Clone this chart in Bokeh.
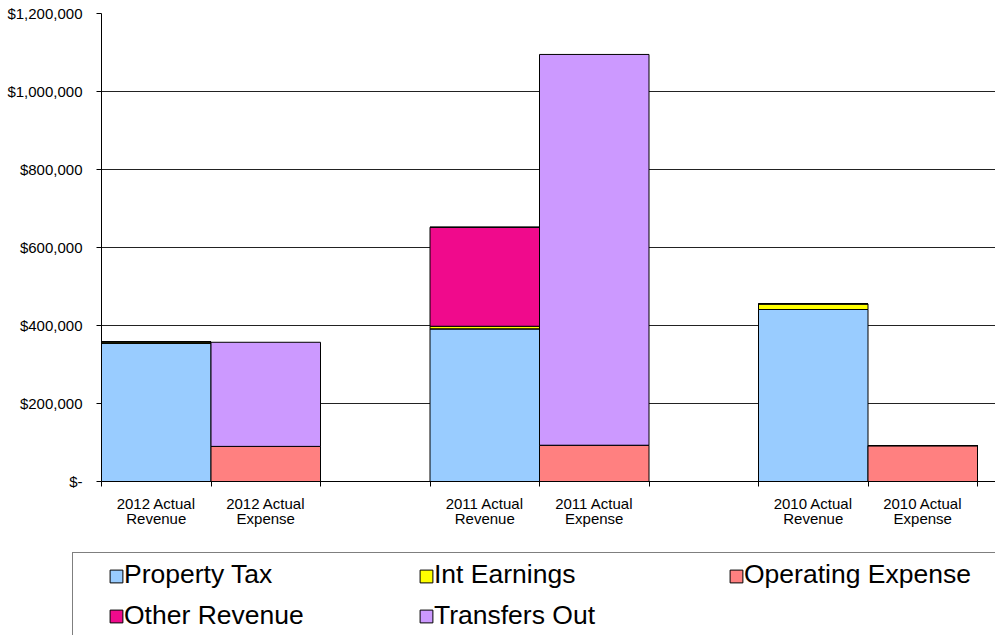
from bokeh.plotting import figure
from bokeh.layouts import column
from bokeh.models import (Range1d, FixedTicker, Legend, LegendItem, ColumnDataSource)
from bokeh.core.properties import value
from bokeh.embed import file_html
from bokeh.resources import INLINE

# ---- data ----
categories = ["2012 Actual\nRevenue", "2012 Actual\nExpense",
              "2011 Actual\nRevenue", "2011 Actual\nExpense",
              "2010 Actual\nRevenue", "2010 Actual\nExpense"]
property_tax = [354000, 0, 391500, 0, 441000, 0]
int_earnings = [4000, 0, 6500, 0, 14500, 0]
other_revenue = [0, 0, 254000, 0, 0, 0]
operating_expense = [0, 90000, 0, 93000, 0, 92000]
transfers_out = [0, 267000, 0, 1002000, 0, 0]
series_names = ["Property Tax", "Int Earnings", "Operating Expense",
                "Other Revenue", "Transfers Out"]
y_ticks = [0, 200000, 400000, 600000, 800000, 1000000, 1200000]
y_tick_labels = ["$-", "$200,000", "$400,000", "$600,000", "$800,000",
                 "$1,000,000", "$1,200,000"]

FONT = "Liberation Sans"
colors = {"Property Tax": "#99CCFF", "Int Earnings": "#FFFF00",
          "Operating Expense": "#FF8080", "Other Revenue": "#F00A8C",
          "Transfers Out": "#CC99FF"}

# category slots: pairs of bars separated by one empty slot
xpos = [i + i // 2 for i in range(len(categories))]
n_slots = xpos[-1] + 1

source = ColumnDataSource(dict(
    x=xpos,
    pt=property_tax, ie=int_earnings, oe=operating_expense,
    orv=other_revenue, to=transfers_out,
))
stack_keys = ["pt", "oe", "ie", "orv", "to"]
stack_names = ["Property Tax", "Operating Expense", "Int Earnings",
               "Other Revenue", "Transfers Out"]

p = figure(width=995, height=550, output_backend="svg", toolbar_location=None,
           x_range=Range1d(-0.5, -0.5 + 894 / 109.5),
           y_range=Range1d(0, 1200000),
           min_border_left=101, min_border_right=0, min_border_top=13,
           min_border_bottom=69)
p.frame_align = False
p.outline_line_color = None
p.background_fill_color = "white"

p.vbar_stack(stack_keys, x="x", width=1, source=source,
             fill_color=[colors[n] for n in stack_names],
             line_color="black", line_width=1)

# axes
p.xgrid.visible = False
p.ygrid.ticker = FixedTicker(ticks=y_ticks)
p.ygrid.grid_line_color = "#222222"
p.ygrid.grid_line_width = 1

p.yaxis.ticker = FixedTicker(ticks=y_ticks)
p.yaxis.major_label_overrides = dict(zip(y_ticks, y_tick_labels))
p.yaxis.major_tick_out = 5
p.yaxis.major_tick_in = 0
p.yaxis.minor_tick_out = 0
p.yaxis.minor_tick_in = 0
p.yaxis.axis_line_color = "black"
p.yaxis.major_tick_line_color = "black"
p.yaxis.major_label_text_font = FONT
p.yaxis.major_label_text_font_size = "15px"
p.yaxis.major_label_text_color = "black"
p.yaxis.major_label_standoff = 14

p.xaxis.ticker = FixedTicker(ticks=xpos,
                             minor_ticks=[k - 0.5 for k in range(n_slots + 1)])
p.xaxis.major_label_overrides = dict(zip(xpos, categories))
p.xaxis.major_tick_out = 0
p.xaxis.major_tick_in = 0
p.xaxis.minor_tick_out = 5
p.xaxis.minor_tick_in = 0
p.xaxis.minor_tick_line_color = "black"
p.xaxis.axis_line_color = "black"
p.xaxis.major_label_text_font = FONT
p.xaxis.major_label_text_font_size = "15px"
p.xaxis.major_label_text_color = "black"
p.xaxis.major_label_text_line_height = 0.9
p.xaxis.major_label_standoff = 8

# ---- legend panel (separate strip below the chart) ----
p2 = figure(width=995, height=85, output_backend="svg", toolbar_location=None,
            x_range=Range1d(-100, -99), y_range=Range1d(0, 1),
            x_axis_location=None, y_axis_location=None,
            min_border_left=70, min_border_right=0, min_border_top=0,
            min_border_bottom=0)
p2.frame_align = False
p2.outline_line_color = None
p2.grid.visible = False

# same bars, kept out of this strip's visible range; used as legend glyphs
rs2 = p2.vbar_stack(stack_keys, x="x", width=1, source=source,
                    fill_color=[colors[n] for n in stack_names],
                    line_color="black", line_width=1)
rmap = dict(zip(stack_names, rs2))
ghost = p2.vbar(x="x", top="pt", width=1, source=source,
                fill_alpha=0, line_alpha=0)

# box of the legend
frame_leg = Legend(items=[LegendItem(label=value(" "), renderers=[ghost])],
                   location="top_left", padding=0, margin=2, spacing=0,
                   glyph_width=1, glyph_height=1, label_standoff=0,
                   label_width=1000, label_height=120,
                   border_line_color="black", border_line_width=1,
                   background_fill_color="white", background_fill_alpha=1,
                   label_text_alpha=0)
p2.add_layout(frame_leg, "center")

# colour squares
glyph_leg = Legend(items=[LegendItem(label=value(" "), renderers=[rmap[n]]) for n in series_names],
                   location=(38, 11), orientation="horizontal", ncols=3,
                   padding=0, margin=0, spacing=24,
                   glyph_width=16, glyph_height=16, label_standoff=0,
                   label_width=270, label_height=16,
                   label_text_font_size="1px", label_text_alpha=0,
                   border_line_alpha=0, background_fill_alpha=0)
p2.add_layout(glyph_leg, "center")

# labels
text_leg = Legend(items=[LegendItem(label=value(n), renderers=[ghost]) for n in series_names],
                  location=(38, 4), orientation="horizontal", ncols=3,
                  padding=0, margin=0, spacing=10,
                  glyph_width=14, glyph_height=16, label_standoff=2,
                  label_width=284, label_height=30,
                  border_line_alpha=0, background_fill_alpha=0,
                  label_text_font=FONT, label_text_font_size="26.5px",
                  label_text_color="black")
p2.add_layout(text_leg, "center")

layout = column(p, p2, spacing=0)
open("out.html", "w").write(file_html(layout, INLINE))
